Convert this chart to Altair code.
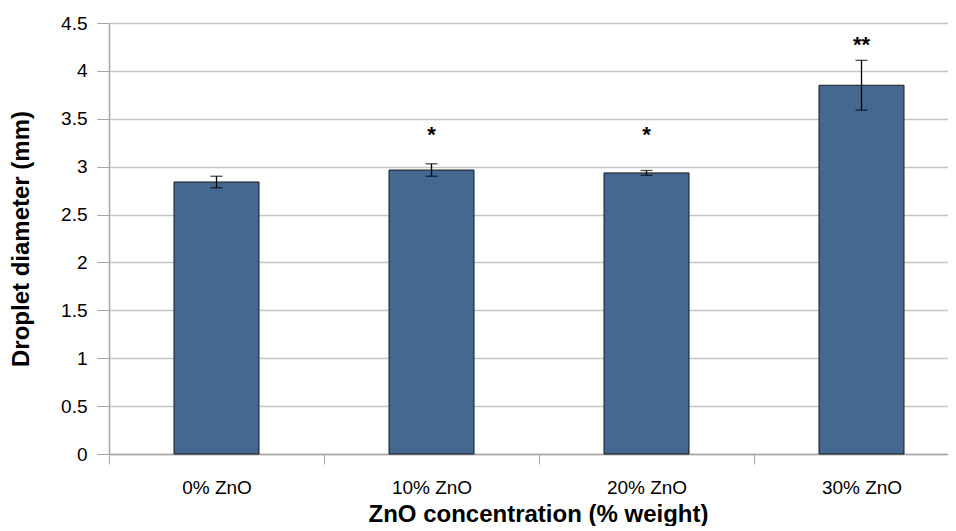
import altair as alt
import pandas as pd

categories = ["0% ZnO", "10% ZnO", "20% ZnO", "30% ZnO"]
means = [2.84, 2.965, 2.935, 3.85]
errors = [0.06, 0.065, 0.025, 0.26]
sig_labels = ["", "*", "*", "**"]
sig_pos = [0.0, 3.26, 3.26, 4.20]
y_ticks = [0, 0.5, 1, 1.5, 2, 2.5, 3, 3.5, 4, 4.5]

df = pd.DataFrame({
    "cat": categories,
    "mean": means,
    "lo": [m - e for m, e in zip(means, errors)],
    "hi": [m + e for m, e in zip(means, errors)],
    "sig": sig_labels,
    "sigpos": sig_pos,
})

FONT = "Liberation Sans"
xscale = alt.Scale(domain=categories, range=[0, 860], paddingInner=0, paddingOuter=0)
yscale = alt.Scale(domain=[0, 4.5], nice=False)

x_enc = alt.X("cat:N", scale=xscale, sort=categories,
              axis=alt.Axis(title="ZnO concentration (% weight)", labelAngle=0,
                            tickBand="extent", tickSize=10, tickColor="#a6a6a6",
                            domainColor="#a6a6a6", domainWidth=1.5,
                            labelFont=FONT, labelFontSize=19, labelColor="#000",
                            labelPadding=14, titleFont=FONT, titleFontSize=24,
                            titleFontWeight="bold", titleColor="#000", titlePadding=5,
                            titleX=429, grid=False))

bars = alt.Chart(df).mark_bar(size=85, fill="#456890", stroke="#1a1a1a", strokeWidth=1).encode(
    x=x_enc,
    y=alt.Y("mean:Q", scale=yscale,
            axis=alt.Axis(title="Droplet diameter (mm)", values=y_ticks, format="~g",
                          tickSize=12, tickColor="#a6a6a6", domainColor="#a6a6a6",
                          domainWidth=1.5, gridColor="#c4c4c4", gridWidth=1.5,
                          labelFont=FONT, labelFontSize=19, labelColor="#000",
                          labelPadding=10, titleFont=FONT, titleFontSize=24,
                          titleFontWeight="bold", titleColor="#000", titlePadding=27)),
)

err = alt.Chart(df).mark_rule(color="#000", strokeWidth=1.3).encode(
    x=alt.X("cat:N", scale=xscale, sort=categories),
    y=alt.Y("lo:Q", scale=yscale),
    y2="hi:Q",
)
cap_lo = alt.Chart(df).mark_tick(color="#000", size=12, thickness=1.3).encode(
    x=alt.X("cat:N", scale=xscale, sort=categories),
    y=alt.Y("lo:Q", scale=yscale),
)
cap_hi = alt.Chart(df).mark_tick(color="#000", size=12, thickness=1.3).encode(
    x=alt.X("cat:N", scale=xscale, sort=categories),
    y=alt.Y("hi:Q", scale=yscale),
)
stars = alt.Chart(df).mark_text(font=FONT, fontSize=22, fontWeight="bold", color="#000",
                                baseline="alphabetic").encode(
    x=alt.X("cat:N", scale=xscale, sort=categories),
    y=alt.Y("sigpos:Q", scale=yscale),
    text="sig:N",
)

chart = alt.layer(bars, err, cap_lo, cap_hi, stars).properties(
    width=839, height=431,
    autosize=alt.AutoSizeParams(type="none"),
    padding={"left": 101, "top": 15, "right": 0, "bottom": 72},
    background="white",
).configure_view(stroke=None)

chart.save("out.html", embed_options={"renderer": "svg", "actions": False})
